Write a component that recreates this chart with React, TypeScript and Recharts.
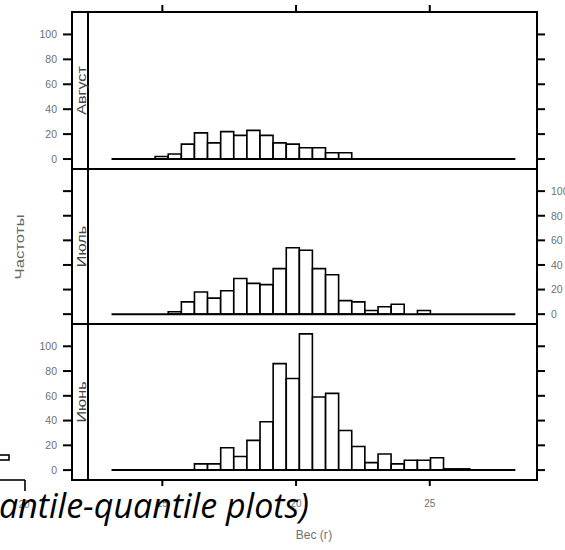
import React from "react";
import { ComposedChart, Bar, XAxis, YAxis, ReferenceLine } from "recharts";

// left edges of the histogram bins, g
const bins = [
  14.73, 15.22, 15.71, 16.2, 16.69, 17.18, 17.67, 18.16, 18.65, 19.14, 19.63, 20.12,
  20.61, 21.1, 21.59, 22.08, 22.57, 23.06, 23.55, 24.04, 24.53, 25.02, 25.51, 26.0,
];
const binRange = [14.73, 26.5];

const augCounts = [2, 4, 12, 21, 13, 22, 19, 23, 19, 13, 12, 9, 9, 5, 5, null, null, null, null, null, null, null, null, null];
const julCounts = [null, 2, 10, 18, 13, 19, 29, 25, 24, 37, 54, 52, 37, 32, 11, 10, 3, 6, 8, null, 3, null, null, null];
const junCounts = [null, null, null, 5, 5, 18, 11, 24, 39, 86, 74, 110, 59, 62, 32, 19, 6, 13, 5, 8, 8, 10, 1, 1];

const panelNames = ["Август", "Июль", "Июнь"];
const panelCounts = [augCounts, julCounts, junCounts];

const yTicks = [0, 20, 40, 60, 80, 100];
const xTicks = [15, 20, 25];
const yDomain = [-8, 118];
const xDomain = [12.22, 29.01];
const baseLine = [13.1, 28.2];

const yTitle = "Частоты";
const xTitle = "Вес (г)";
const slideText = "antile-quantile plots)";

// layout
const W = 565;
const H = 550;
const FRAME_L = 72;
const STRIP_R = 88;
const FRAME_R = 537;
const BORDERS = [12, 169, 324, 480];
const PAD = 40;
const LABEL_FONT = "'Liberation Sans', Arial, sans-serif";
const GREY = "#707070";

function LeftTick(props: any) {
  const { y, payload, showLabel } = props;
  return (
    <g>
      <line x1={FRAME_L - 9} x2={FRAME_L} y1={y} y2={y} stroke="#000" strokeWidth={2} />
      {showLabel ? (
        <text x={FRAME_L - 15} y={y} dy="0.36em" textAnchor="end" fontSize={10.5} fill={GREY} fontFamily={LABEL_FONT}>
          {payload.value}
        </text>
      ) : null}
    </g>
  );
}

function RightTick(props: any) {
  const { y, payload, showLabel } = props;
  return (
    <g>
      <line x1={FRAME_R} x2={FRAME_R + 8} y1={y} y2={y} stroke="#000" strokeWidth={2} />
      {showLabel ? (
        <text x={FRAME_R + 14} y={y} dy="0.36em" textAnchor="start" fontSize={10.5} fill={GREY} fontFamily={LABEL_FONT}>
          {payload.value}
        </text>
      ) : null}
    </g>
  );
}

// edge = y of the panel border inside the chart's own svg
function BottomTick(props: any) {
  const { x, payload, edge } = props;
  return (
    <g>
      <line x1={x} x2={x} y1={edge} y2={edge + 6} stroke="#000" strokeWidth={2} />
      <text x={x} y={edge + 23} dy="0.36em" textAnchor="middle" fontSize={10} fill={GREY} fontFamily={LABEL_FONT}>
        {payload.value}
      </text>
    </g>
  );
}

function TopTick(props: any) {
  const { x, edge } = props;
  return <line x1={x} x2={x} y1={edge - 7} y2={edge} stroke="#000" strokeWidth={2} />;
}

function Panel({ idx }: { idx: number }) {
  const top = BORDERS[idx];
  const h = BORDERS[idx + 1] - top;
  const plotW = FRAME_R - STRIP_R;
  const span = xDomain[1] - xDomain[0];
  const padL = ((binRange[0] - xDomain[0]) / span) * plotW;
  const padR = ((xDomain[1] - binRange[1]) / span) * plotW;
  const data = bins.map((b, i) => ({ bin: b, count: panelCounts[idx][i] }));
  const middle = idx === 1;
  const showTop = idx === 0;
  const showBottom = idx === 2;

  return (
    <div style={{ position: "absolute", left: 0, top: top - PAD }}>
      <ComposedChart
        width={W}
        height={h + 2 * PAD}
        data={data}
        margin={{
          top: showTop ? PAD - 1 : PAD,
          bottom: showBottom ? PAD - 1 : PAD,
          left: STRIP_R - 1,
          right: W - FRAME_R - 1,
        }}
        barCategoryGap={0}
        barGap={0}
      >
        <XAxis xAxisId="bins" dataKey="bin" type="category" hide height={0} padding={{ left: padL, right: padR }} />
        <XAxis
          xAxisId="g"
          dataKey="bin"
          type="number"
          domain={xDomain}
          allowDataOverflow
          ticks={xTicks}
          interval={0}
          orientation={showTop ? "top" : "bottom"}
          hide={middle}
          height={1}
          tickSize={0}
          tickMargin={0}
          axisLine={false}
          tickLine={false}
          tick={
            showTop
              ? (p: any) => <TopTick {...p} edge={PAD} />
              : (p: any) => <BottomTick {...p} edge={PAD + h} />
          }
        />
        <YAxis
          yAxisId="l"
          type="number"
          domain={yDomain}
          allowDataOverflow
          ticks={yTicks}
          interval={0}
          width={1}
          tickSize={0}
          tickMargin={0}
          axisLine={false}
          tickLine={false}
          tick={(p: any) => <LeftTick {...p} showLabel={!middle} />}
        />
        <YAxis
          yAxisId="r"
          orientation="right"
          type="number"
          domain={yDomain}
          allowDataOverflow
          ticks={yTicks}
          interval={0}
          width={1}
          tickSize={0}
          tickMargin={0}
          axisLine={false}
          tickLine={false}
          tick={(p: any) => <RightTick {...p} showLabel={middle} />}
        />
        <Bar
          xAxisId="bins"
          yAxisId="l"
          dataKey="count"
          fill="#fff"
          stroke="#000"
          strokeWidth={1.6}
          isAnimationActive={false}
        />
        <ReferenceLine
          xAxisId="g"
          yAxisId="l"
          ifOverflow="visible"
          segment={[
            { x: baseLine[0], y: 0 },
            { x: baseLine[1], y: 0 },
          ]}
          stroke="#000"
          strokeWidth={2}
        />
      </ComposedChart>
    </div>
  );
}

export default function App() {
  return (
    <div style={{ position: "absolute", left: 0, top: 0, width: W, height: H, background: "#fff", overflow: "hidden" }}>
      {panelNames.map((_, i) => (
        <Panel key={i} idx={i} />
      ))}
      <svg width={W} height={H} style={{ position: "absolute", left: 0, top: 0 }}>
        <rect
          x={FRAME_L}
          y={BORDERS[0]}
          width={FRAME_R - FRAME_L}
          height={BORDERS[3] - BORDERS[0]}
          fill="none"
          stroke="#000"
          strokeWidth={2}
        />
        <line x1={FRAME_L} x2={FRAME_R} y1={BORDERS[1]} y2={BORDERS[1]} stroke="#000" strokeWidth={2} />
        <line x1={FRAME_L} x2={FRAME_R} y1={BORDERS[2]} y2={BORDERS[2]} stroke="#000" strokeWidth={2} />
        <line x1={STRIP_R} x2={STRIP_R} y1={BORDERS[0]} y2={BORDERS[3]} stroke="#000" strokeWidth={2} />
        {panelNames.map((name, i) => (
          <text
            key={name}
            transform={`translate(${STRIP_R - 6}, ${(BORDERS[i] + BORDERS[i + 1]) / 2}) rotate(-90) scale(1.35, 1)`}
            textAnchor="middle"
            dominantBaseline="central"
            fontSize={12}
            fill="#444"
            fontFamily={LABEL_FONT}
          >
            {name}
          </text>
        ))}
        <text
          transform={`translate(20, 247) rotate(-90) scale(1.4, 1)`}
          textAnchor="middle"
          dominantBaseline="central"
          fontSize={12}
          fill="#666"
          fontFamily={LABEL_FONT}
        >
          {yTitle}
        </text>
        <text x={314} y={535} textAnchor="middle" dominantBaseline="central" fontSize={12} fill={GREY} fontFamily={LABEL_FONT}>
          {xTitle}
        </text>
        {/* fragment of a neighbouring plot on the slide */}
        <rect x={-2} y={455} width={11} height={5} fill="#fff" stroke="#000" strokeWidth={1.6} />
        <line x1={0} x2={25} y1={480} y2={480} stroke="#000" strokeWidth={1.6} />
        <line x1={25} x2={25} y1={480} y2={491} stroke="#000" strokeWidth={1.6} />
        <text x={24} y={508} textAnchor="middle" fontSize={10} fill={GREY} fontFamily={LABEL_FONT}>
          20
        </text>
        <text x={-1} y={518} fontSize={34} fontStyle="italic" fill="#000" fontFamily="'Open Sans', 'Liberation Sans', sans-serif">
          {slideText}
        </text>
      </svg>
    </div>
  );
}
